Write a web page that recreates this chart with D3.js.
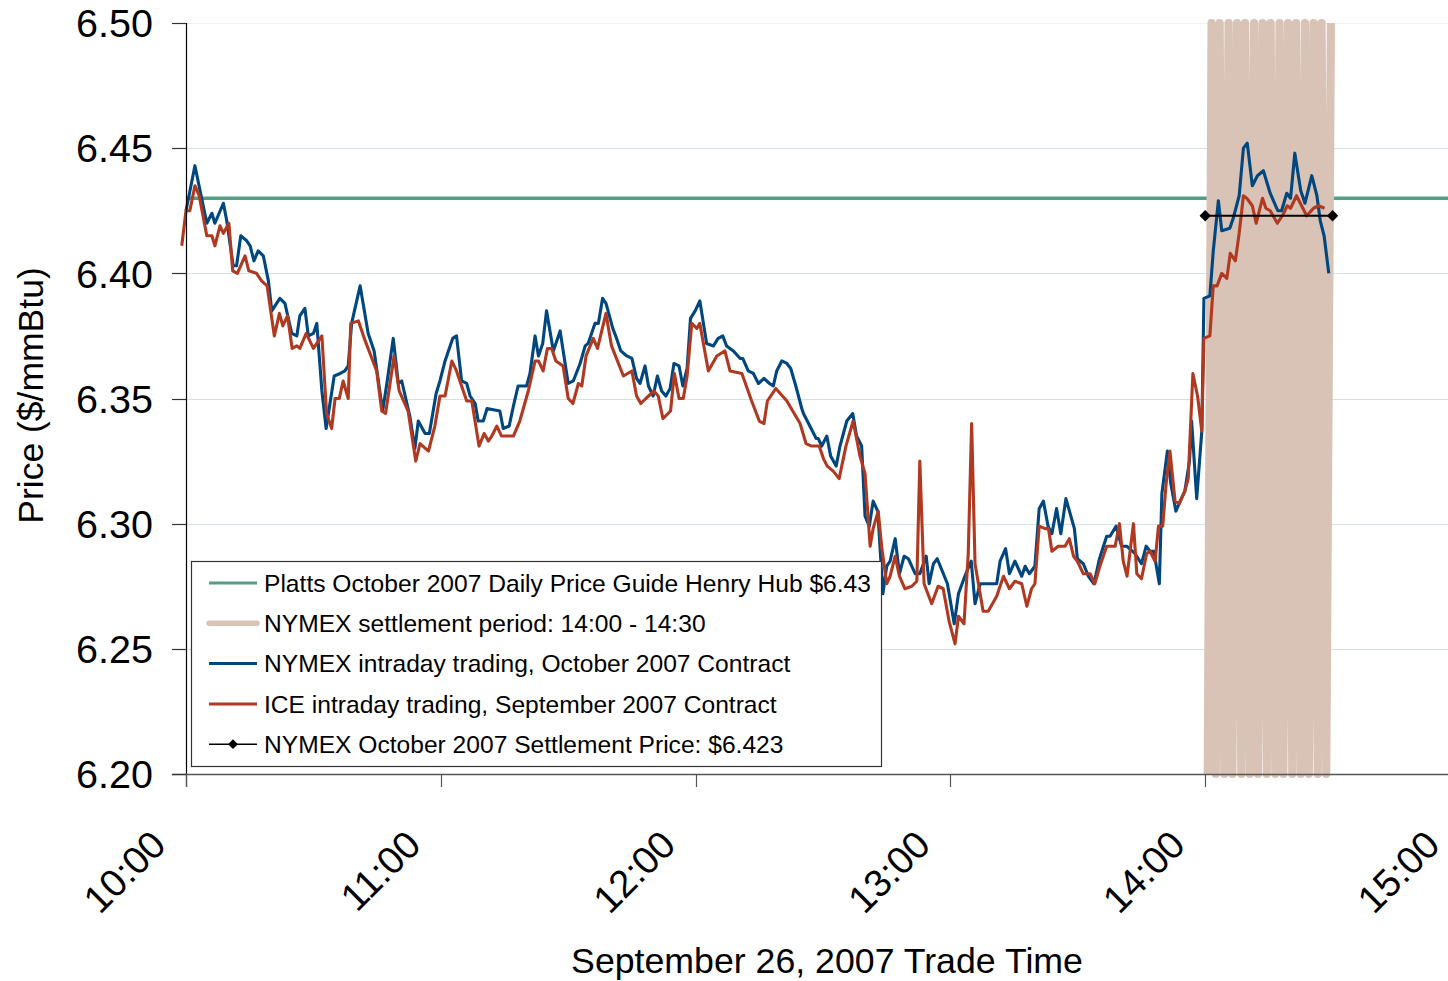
<!DOCTYPE html>
<html>
<head>
<meta charset="utf-8">
<script src="https://cdn.jsdelivr.net/npm/d3@7"></script>
<style>
  html, body { margin: 0; padding: 0; background: #fff; }
  svg { display: block; font-family: "Liberation Sans", Arial, sans-serif; }
</style>
</head>
<body>
<svg id="chart" width="1448" height="981"></svg>
<script>
// ---------- DATA ----------
const hourLabels = ["10:00", "11:00", "12:00", "13:00", "14:00", "15:00"];
const hourTicks = [0, 60, 120, 180, 240, 300]; // minutes after 10:00
const priceTicks = [6.20, 6.25, 6.30, 6.35, 6.40, 6.45, 6.50];

const plattsPrice = 6.43;
const settlementPrice = 6.423;
const settlementWindow = [240, 270]; // 14:00 - 14:30

// NYMEX intraday trading, October 2007 contract (minutes after 10:00, $/mmBtu)
const nymexTime = [0,2.1,4.9,6.1,6.8,8.8,9.6,11.1,11.9,12.9,
14.3,15.1,16.0,17.0,18.2,19.4,20.2,22.1,23.3,24.9,
26.1,26.8,28.0,28.8,30.0,30.8,32.0,33.0,33.9,34.9,
36.3,37.4,38.2,39.0,41.0,42.9,44.3,46.3,47.3,48.8,
50.0,50.8,52.7,53.9,54.7,56.3,57.3,58.9,59.8,61.0,
62.8,63.7,64.9,66.1,66.9,68.1,68.8,70.0,70.9,73.9,
74.7,76.1,77.1,78.2,80.2,81.0,82.2,83.0,84.0,84.9,
86.5,88.1,90.0,91.2,92.8,94.0,94.7,96.3,97.1,98.1,
98.9,100.5,101.4,102.4,103.8,105.0,106.1,106.9,108.1,108.9,
110.0,111.0,112.0,113.0,114.0,114.9,116.1,117.0,118.0,118.8,
119.9,121.0,122.6,124.2,125.3,126.4,127.3,128.9,130.5,131.1,
132.4,133.6,134.8,136.1,137.4,138.3,139.1,140.3,141.5,142.4,
143.6,145.0,145.4,146.9,148.4,148.9,149.7,150.9,151.8,153.1,
154.0,155.6,157.0,157.9,159.1,159.9,160.9,161.8,162.9,164.1,
165.0,165.8,167.0,168.0,169.1,170.1,171.7,172.8,174.3,175.0,
176.0,176.9,179.3,180.9,181.9,183.4,184.9,185.8,187.0,189.7,
190.9,191.7,193.0,193.9,195.2,196.8,197.6,198.6,199.9,200.9,
201.9,203.0,203.9,205.0,206.0,207.2,208.2,209.2,209.9,211.3,
212.5,213.8,215.1,216.8,217.6,219.0,220.3,221.5,223.5,225.0,
226.1,227.0,227.9,229.2,229.8,231.1,231.9,233.1,234.1,235.2,
236.3,236.8,238.0,239.2,239.7,241.1,241.9,243.1,243.9,245.8,
246.6,248.0,249.0,249.9,251.1,252.3,253.7,255.3,257.1,258.0,
259.2,260.1,261.1,262.5,263.5,265.1,266.3,267.1,268.0,269.1];
const nymexPrice = [6.425,6.443,6.420,6.424,6.420,6.428,6.421,6.403,6.403,6.415,
6.413,6.411,6.405,6.409,6.407,6.397,6.385,6.390,6.388,6.376,
6.375,6.383,6.386,6.375,6.376,6.380,6.353,6.338,6.348,6.359,
6.360,6.361,6.363,6.380,6.395,6.376,6.369,6.345,6.356,6.374,
6.356,6.357,6.343,6.330,6.341,6.336,6.336,6.352,6.357,6.365,
6.374,6.375,6.357,6.356,6.351,6.348,6.341,6.341,6.346,6.345,
6.338,6.339,6.347,6.355,6.355,6.360,6.375,6.367,6.372,6.385,
6.369,6.377,6.356,6.357,6.364,6.371,6.372,6.380,6.380,6.390,
6.388,6.378,6.374,6.369,6.367,6.366,6.358,6.356,6.363,6.355,
6.351,6.359,6.353,6.351,6.354,6.364,6.363,6.355,6.362,6.382,
6.385,6.389,6.372,6.371,6.374,6.375,6.371,6.369,6.366,6.366,
6.361,6.360,6.356,6.358,6.356,6.355,6.361,6.365,6.364,6.362,
6.355,6.346,6.344,6.339,6.334,6.334,6.331,6.335,6.327,6.323,
6.331,6.341,6.344,6.335,6.331,6.303,6.299,6.309,6.305,6.272,
6.283,6.285,6.294,6.280,6.287,6.286,6.280,6.280,6.287,6.276,
6.284,6.286,6.276,6.260,6.272,6.279,6.285,6.268,6.276,6.276,
6.276,6.285,6.290,6.280,6.285,6.279,6.283,6.280,6.283,6.306,
6.309,6.299,6.296,6.306,6.296,6.310,6.304,6.298,6.286,6.284,
6.279,6.276,6.286,6.295,6.295,6.299,6.291,6.291,6.288,6.284,
6.291,6.289,6.289,6.276,6.312,6.329,6.316,6.305,6.309,6.313,
6.325,6.341,6.310,6.337,6.390,6.391,6.409,6.429,6.417,6.418,
6.422,6.431,6.450,6.452,6.435,6.439,6.441,6.432,6.425,6.425,
6.432,6.430,6.448,6.433,6.428,6.439,6.431,6.421,6.415,6.400];

// ICE intraday trading, September 2007 contract
const iceTime = [-1.0,0,0.9,2.1,3.1,4.9,6.1,6.8,8.0,8.8,
10.1,11.0,12.1,13.9,14.8,16.6,17.8,19.1,20.8,22.0,
22.8,23.9,25.0,26.1,26.8,28.3,30.0,32.0,33.1,34.3,
35.1,36.1,37.0,38.2,38.8,40.6,42.2,44.9,46.1,47.0,
49.0,50.2,52.3,54.1,55.1,57.1,58.6,59.8,61.0,62.6,
63.7,66.1,67.3,69.0,70.2,71.2,72.0,73.2,74.3,77.1,
78.6,80.6,82.2,83.0,84.1,85.1,86.1,87.1,88.8,90.0,
91.1,92.4,93.2,94.2,95.9,96.9,98.9,100.2,103.0,105.0,
106.1,107.1,108.3,110.2,111.2,112.3,114.1,115.0,116.1,117.1,
118.0,119.1,120.3,121.0,123.0,125.0,126.9,128.1,130.9,133.2,
135.0,136.1,136.9,138.9,141.5,144.6,146.0,147.3,149.1,150.1,
151.0,152.4,153.8,155.4,157.1,158.7,159.9,161.1,161.8,163.0,
163.8,165.0,165.8,167.0,168.0,169.3,170.9,172.1,172.8,173.8,
175.6,177.1,178.3,179.7,181.1,181.9,183.2,184.2,185.0,185.8,
187.7,188.9,190.9,192.5,193.9,195.2,196.8,198.0,199.1,199.9,
200.9,202.3,203.1,203.9,205.4,207.0,208.0,209.0,209.9,211.3,
212.1,212.9,214.0,215.2,216.8,218.8,219.8,220.7,221.6,223.1,
223.9,225.0,226.2,227.0,228.2,229.0,230.0,230.8,231.7,232.9,
233.9,235.2,236.0,237.1,238.2,239.2,239.7,241.1,241.9,242.8,
243.9,245.1,245.9,247.1,248.0,249.0,249.8,251.1,252.0,253.5,
254.3,255.3,257.0,258.5,259.3,260.1,261.5,262.7,263.9,265.5,
266.7,268.1];
const icePrice = [6.411,6.425,6.425,6.435,6.431,6.415,6.415,6.411,6.419,6.416,
6.420,6.401,6.400,6.407,6.401,6.400,6.397,6.395,6.375,6.384,
6.379,6.383,6.370,6.371,6.370,6.376,6.370,6.375,6.344,6.338,
6.350,6.350,6.357,6.350,6.380,6.381,6.373,6.361,6.345,6.344,
6.367,6.353,6.345,6.325,6.332,6.329,6.339,6.351,6.351,6.365,
6.361,6.349,6.349,6.331,6.336,6.333,6.335,6.339,6.335,6.335,
6.341,6.353,6.365,6.365,6.361,6.370,6.370,6.365,6.363,6.350,
6.348,6.356,6.355,6.367,6.374,6.370,6.384,6.371,6.359,6.361,
6.351,6.348,6.350,6.353,6.351,6.342,6.345,6.360,6.350,6.350,
6.359,6.380,6.378,6.380,6.361,6.367,6.369,6.361,6.360,6.349,
6.341,6.340,6.349,6.354,6.349,6.340,6.332,6.331,6.331,6.326,
6.323,6.321,6.318,6.331,6.341,6.327,6.320,6.291,6.298,6.305,
6.291,6.276,6.279,6.287,6.279,6.274,6.275,6.277,6.325,6.276,
6.268,6.275,6.274,6.261,6.252,6.263,6.260,6.288,6.340,6.284,
6.265,6.265,6.271,6.279,6.274,6.277,6.276,6.267,6.274,6.276,
6.299,6.298,6.298,6.289,6.291,6.291,6.294,6.287,6.285,6.280,
6.280,6.280,6.276,6.283,6.291,6.291,6.300,6.285,6.279,6.300,
6.280,6.278,6.288,6.289,6.285,6.299,6.299,6.316,6.329,6.309,
6.308,6.313,6.318,6.360,6.351,6.337,6.374,6.375,6.395,6.395,
6.400,6.398,6.408,6.405,6.416,6.431,6.430,6.427,6.420,6.430,
6.426,6.425,6.420,6.424,6.427,6.426,6.431,6.427,6.423,6.426,
6.427,6.426];

// NYMEX settlement period band (zig-zag series spanning the axis range)
const settleTime = [240.6,241.5,242.5,243.4,244.5,245.5,246.4,247.5,248.5,249.4,
250.5,251.5,252.4,253.5,254.5,255.4,256.5,257.5,258.4,259.5,
260.5,261.4,262.5,263.5,264.4,265.5,266.5,267.4,268.5,269.6];
const settleValue = [6.20,6.50,6.20,6.50,6.20,6.50,6.20,6.50,6.20,6.50,
6.20,6.50,6.20,6.50,6.20,6.50,6.20,6.50,6.20,6.50,
6.20,6.50,6.20,6.50,6.20,6.50,6.20,6.50,6.20,6.50];

const legendLabels = [
  "Platts October 2007 Daily Price Guide Henry Hub $6.43",
  "NYMEX settlement period: 14:00 - 14:30",
  "NYMEX intraday trading, October 2007 Contract",
  "ICE intraday trading, September 2007 Contract",
  "NYMEX October 2007 Settlement Price: $6.423"
];

// ---------- STYLE ----------
const C = {
  platts: "#529E86",
  band: "#D9C3B6",
  nymex: "#00467F",
  ice: "#B03A21",
  settle: "#000000",
  grid: "#D3E2E7"
};

// ---------- CHART ----------
const svg = d3.select("#chart");
const x = d3.scaleLinear().domain([0, 300]).range([186, 1460]);
const y = d3.scaleLinear().domain([6.20, 6.50]).range([774, 23]);

// gridlines
svg.append("g").selectAll("line")
  .data(priceTicks.filter(d => d > 6.2))
  .join("line")
  .attr("x1", x(0)).attr("x2", 1448)
  .attr("y1", d => Math.round(y(d)) + 0.5).attr("y2", d => Math.round(y(d)) + 0.5)
  .attr("stroke", d => d >= 6.5 ? "#EEF4F5" : C.grid)
  .attr("stroke-width", 1);

// Platts line
svg.append("line")
  .attr("x1", x(0)).attr("x2", x(300))
  .attr("y1", y(plattsPrice)).attr("y2", y(plattsPrice))
  .attr("stroke", C.platts).attr("stroke-width", 3.5);

// settlement band zig-zag
const settlePts = settleTime.map((t, i) => [t, settleValue[i]]);
svg.append("path")
  .datum(settlePts)
  .attr("d", d3.line().x(d => x(d[0])).y(d => y(d[1])))
  .attr("fill", "none")
  .attr("stroke", C.band)
  .attr("stroke-width", 8.2)
  .attr("stroke-linejoin", "round");

// price lines
const line = d3.line().x(d => x(d[0])).y(d => y(d[1]));
const nymexPts = nymexTime.map((t, i) => [t, nymexPrice[i]]);
const icePts = iceTime.map((t, i) => [t, icePrice[i]]);
svg.append("path").datum(nymexPts).attr("d", line)
  .attr("fill", "none").attr("stroke", C.nymex).attr("stroke-width", 3.1)
  .attr("stroke-linejoin", "round");
svg.append("path").datum(icePts).attr("d", line)
  .attr("fill", "none").attr("stroke", C.ice).attr("stroke-width", 3.1)
  .attr("stroke-linejoin", "round");

// settlement price line with diamonds
const settleLinePts = settlementWindow.map(t => [t, settlementPrice]);
svg.append("path").datum(settleLinePts).attr("d", line)
  .attr("fill", "none").attr("stroke", C.settle).attr("stroke-width", 2);
svg.append("g").selectAll("path")
  .data(settleLinePts).join("path")
  .attr("transform", d => `translate(${x(d[0])},${y(d[1])}) rotate(45)`)
  .attr("d", d3.symbol().type(d3.symbolSquare).size(64))
  .attr("fill", C.settle);

// axes
svg.append("line")
  .attr("x1", x(0) + 0.5).attr("x2", x(0) + 0.5)
  .attr("y1", y(6.5)).attr("y2", y(6.2) + 13)
  .attr("stroke", "#000").attr("stroke-width", 1.2);
svg.append("line")
  .attr("x1", x(0) - 14).attr("x2", 1448)
  .attr("y1", y(6.2) + 0.5).attr("y2", y(6.2) + 0.5)
  .attr("stroke", "#555").attr("stroke-width", 1.5);

// y ticks
const yt = svg.append("g");
yt.selectAll("line").data(priceTicks).join("line")
  .attr("x1", x(0) - 14).attr("x2", x(0))
  .attr("y1", d => Math.round(y(d)) + 0.5).attr("y2", d => Math.round(y(d)) + 0.5)
  .attr("stroke", "#333").attr("stroke-width", 1.2);
yt.selectAll("text").data(priceTicks).join("text")
  .attr("x", 153).attr("y", d => y(d))
  .attr("dy", "0.36em")
  .attr("text-anchor", "end")
  .attr("font-size", 39.5)
  .attr("fill", "#000")
  .text(d => d3.format(".2f")(d));

// x ticks
const xt = svg.append("g");
xt.selectAll("line").data(hourTicks).join("line")
  .attr("x1", d => Math.round(x(d)) + 0.5).attr("x2", d => Math.round(x(d)) + 0.5)
  .attr("y1", y(6.2)).attr("y2", y(6.2) + 13)
  .attr("stroke", "#555").attr("stroke-width", 1.2);
xt.selectAll("text").data(hourTicks).join("text")
  .attr("transform", d => `translate(${x(d) - 18},${y(6.2) + 73}) rotate(-45)`)
  .attr("text-anchor", "end")
  .attr("font-size", 38.5)
  .attr("fill", "#000")
  .text((d, i) => hourLabels[i]);

// axis titles
svg.append("text")
  .attr("transform", `translate(43,${(y(6.2) + y(6.5)) / 2 - 3}) rotate(-90)`)
  .attr("text-anchor", "middle")
  .attr("font-size", 35.5)
  .text("Price ($/mmBtu)");
svg.append("text")
  .attr("x", 827).attr("y", 973)
  .attr("text-anchor", "middle")
  .attr("font-size", 35.7)
  .text("September 26, 2007 Trade Time");

// legend
const lg = svg.append("g");
lg.append("rect")
  .attr("x", 191.5).attr("y", 561.5).attr("width", 690).attr("height", 205)
  .attr("fill", "#fff").attr("stroke", "#333").attr("stroke-width", 1.2);
const rowY = i => 583 + i * 40.3;
const legendStyles = [
  { color: C.platts, w: 3 },
  { color: C.band, w: 5.5 },
  { color: C.nymex, w: 3 },
  { color: C.ice, w: 3 },
  { color: C.settle, w: 1.5 }
];
legendLabels.forEach((lab, i) => {
  lg.append("line")
    .attr("x1", 209).attr("x2", 257)
    .attr("y1", rowY(i)).attr("y2", rowY(i))
    .attr("stroke", legendStyles[i].color)
    .attr("stroke-width", legendStyles[i].w)
    .attr("stroke-linecap", i === 1 ? "round" : "butt");
  if (i === 4) {
    lg.append("path")
      .attr("transform", `translate(233,${rowY(i)}) rotate(45)`)
      .attr("d", d3.symbol().type(d3.symbolSquare).size(48))
      .attr("fill", "#000");
  }
  lg.append("text")
    .attr("x", 264).attr("y", rowY(i))
    .attr("dy", "0.36em")
    .attr("font-size", 24.6)
    .attr("fill", "#000")
    .text(lab);
});
</script>
</body>
</html>
